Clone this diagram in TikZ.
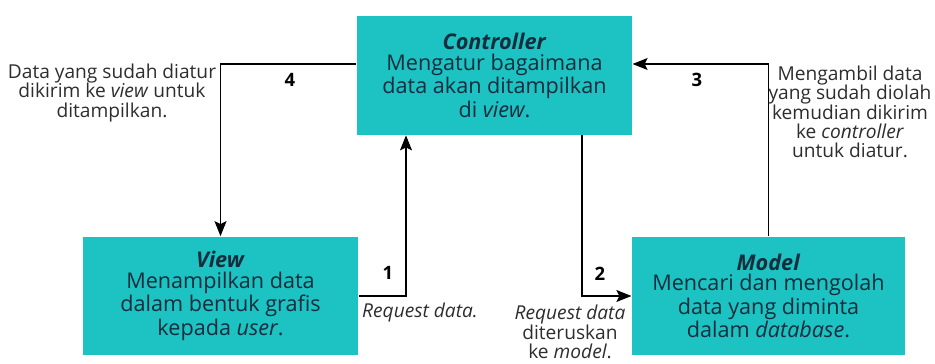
\documentclass[tikz,border=0pt]{standalone}
\usepackage{fontspec}
\setmainfont{Open Sans}
\usepackage{tikz}
\usetikzlibrary{arrows.meta}

\definecolor{teal}{RGB}{29,194,194}
\definecolor{ink}{RGB}{20,45,60}
\definecolor{note}{RGB}{45,45,45}

\begin{document}
\begin{tikzpicture}[>={Stealth[length=3mm, width=2.4mm, inset=0.6mm]}, line width=0.7pt,
  box/.style={fill=teal, text=ink, minimum width=5.5cm, minimum height=2.37cm,
    align=center, font=\fontsize{12.3}{11.6}\selectfont},
  num/.style={font=\fontsize{10.5}{10}\selectfont\bfseries, text=black},
  desc/.style={align=center, text=note, font=\fontsize{10.9}{10.9}\selectfont}]
\useasboundingbox (0,0) rectangle (18.7,-7.28);
\node[box] (controller) at (9.89,-1.51) {\textbf{\textit{Controller}}\\Mengatur bagaimana\\data akan ditampilkan\\di \textit{view}.};
\node[box] (view) at (4.41,-5.92) {\textbf{\textit{View}}\\Menampilkan data\\dalam bentuk grafis\\kepada \textit{user}.};
\node[box, minimum width=5.46cm] (model) at (15.37,-5.92) {\textbf{\textit{Model}}\\Mencari dan mengolah\\data yang diminta\\dalam \textit{database}.};
\draw[->] (view.east) -| ([xshift=-1.77cm]controller.south);
\draw[->] ([xshift=1.75cm]controller.south) |- (model.west);
\draw[->] (model.north) |- ([yshift=0.23cm]controller.east);
\draw[->] ([yshift=0.23cm]controller.west) -| (view.north);
\node[num] (n1) at (7.76,-5.46) {1};
\node[num] (n2) at (12.0,-5.48) {2};
\node[num] (n3) at (13.94,-1.6) {3};
\node[num] (n4) at (5.8,-1.6) {4};
\node[desc] (d1) at (8.4,-6.26) {\textit{Request data.}};
\node[desc] (d2) at (11.4,-6.64) {\textit{Request data}\\diteruskan\\ke \textit{model}.};
\node[desc] (d3) at (17.0,-2.24) {Mengambil data\\yang sudah diolah\\kemudian dikirim\\ke \textit{controller}\\untuk diatur.};
\node[desc] (d4) at (2.24,-1.86) {Data yang sudah diatur\\dikirim ke \textit{view} untuk\\ditampilkan.};
\end{tikzpicture}
\end{document}
